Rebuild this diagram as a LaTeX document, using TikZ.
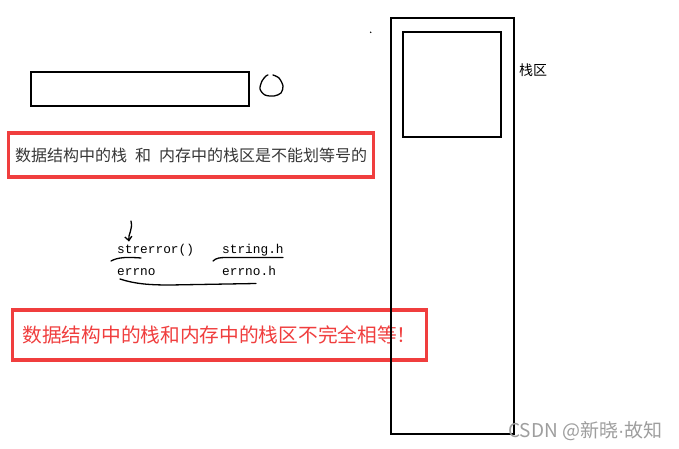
\documentclass[tikz,border=0pt]{standalone}
\usepackage{fontspec}
\setmainfont{Liberation Sans}
\newfontfamily\cjk{Noto Sans CJK SC}
\newfontfamily\codefont{Liberation Mono}
\usepackage{xcolor}
\usetikzlibrary{arrows.meta, positioning, calc}
\definecolor{notered}{RGB}{240,62,62}
\definecolor{notegray}{RGB}{55,55,55}

\begin{document}
\begin{tikzpicture}[
  x=1pt, y=-1pt,
  box/.style={draw, line width=2pt, inner sep=0pt, anchor=north west},
  notebox/.style={draw=notered, line width=3.2pt, inner sep=0pt, align=center},
  code/.style={font=\codefont\fontsize{12.8}{15}\selectfont, inner sep=0pt, anchor=base west},
  pen/.style={line width=1.3pt, line cap=round, line join=round},
  arrow/.style={pen, -{Straight Barb[length=4pt, width=7pt]}}
]
  \useasboundingbox[fill=white] (0,0) rectangle (679,449);

  % left: blank bar and scribble
  \node[box, minimum width=218pt, minimum height=34pt] (bar) at (29.5,71) {};
  \draw[pen] plot[smooth] coordinates {(273,75) (279,78) (283,86) (281,93) (274,96) (265,95) (260,89) (262,81) (266,76) (268,75)};

  \node[notebox, minimum width=365pt, minimum height=44pt, text=notegray,
        font=\cjk\fontsize{16}{18}\selectfont] (note) at (191,155)
    {数据结构中的栈\hspace{8pt}和\hspace{8pt}内存中的栈区是不能划等号的};

  % function / header names
  \node[code] (strerror) at (117,253) {strerror()};
  \node[code] (stringh)  at (222,253) {string.h};
  \node[code] (errno)    at (117,275) {errno};
  \node[code] (errnoh)   at (222,275) {errno.h};

  \coordinate (tail) at (131,221);
  \draw[arrow] (tail) .. controls (133,230) and (128,234) .. ([xshift=12pt, yshift=2pt]strerror.north west);

  \draw[pen] (111,261) .. controls (118,257) and (128,257) .. (141,258);
  \draw[pen] (213,261) .. controls (216,258) and (220,257.5) .. (226,257.5) -- (283,257.5);
  \draw[pen] (120,279) .. controls (135,284) and (150,285) .. (170,285) -- (256,283.5);

  \node[notebox, minimum width=414pt, minimum height=50pt, text=notered,
        font=\cjk\fontsize{19.7}{22}\selectfont] (summary) at (219.5,335)
    {数据结构中的栈和内存中的栈区不完全相等！};

  % right: stack memory
  \node[box, minimum width=123pt, minimum height=415pt] (memory) at (389.5,17.5) {};
  \node[box, minimum width=98.5pt, minimum height=104.5pt] (stack) at (401.5,31.5) {};
  \node[font=\cjk\fontsize{14}{16}\selectfont, inner sep=0pt, anchor=west] (stacklabel) at (519,70) {栈区};
  \fill (370.7,32.3) circle (0.8pt);

  \node[font=\cjk\fontsize{19}{21}\selectfont, text=black!38, inner sep=0pt, anchor=west] (mark) at (508,431) {CSDN @新晓{\rmfamily\fontsize{19}{21}\selectfont ·}故知};
\end{tikzpicture}
\end{document}
